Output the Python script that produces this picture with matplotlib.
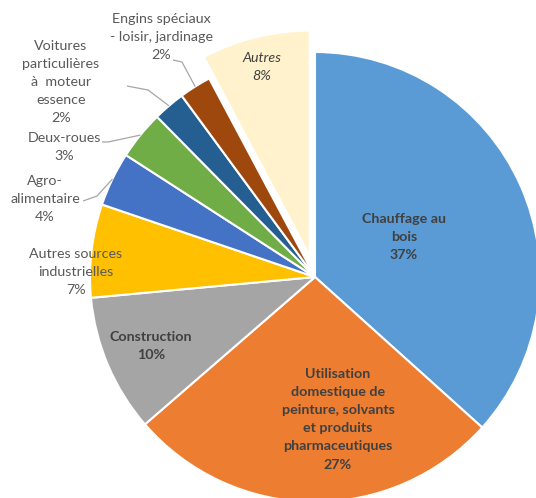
import numpy as np
import matplotlib
matplotlib.use("Agg")
import matplotlib.pyplot as plt

categories = ["Chauffage au\nbois", "Utilisation\ndomestique de\npeinture, solvants\net produits\npharmaceutiques",
              "Construction", "Autres sources\nindustrielles", "Agro-\nalimentaire", "Deux-roues",
              "Voitures\nparticulières\nà  moteur\nessence", "Engins spéciaux\n- loisir, jardinage", "Autres"]
shares = [36.7, 27.0, 9.9, 6.7, 3.9, 3.5, 2.3, 2.3, 7.8]
pct_labels = ["37%", "27%", "10%", "7%", "4%", "3%", "2%", "2%", "8%"]
colors = ["#5B9BD5", "#ED7D31", "#A5A5A5", "#FFC000", "#4472C4", "#70AD47", "#255E91", "#9E480E", "#FFF2CC"]

W, H = 536, 498
fig = plt.figure(figsize=(W / 100, H / 100), dpi=100)
ax = fig.add_axes([0, 0, 1, 1])

cx, cy, R = 315, H - 277, 225
explode = [0, 0, 0, 0, 0, 0, 0, 0, 22]
wedges, _ = ax.pie(shares, colors=colors, startangle=90, counterclock=False, radius=R,
                   center=(cx, cy), explode=explode,
                   wedgeprops=dict(edgecolor="white", linewidth=1.5))
ax.set_xlim(0, W)
ax.set_ylim(0, H)
ax.set_aspect("equal")
ax.axis("off")

FONT = "Lato"
FS = 10.3
LS = 1.62
dark = "#404040"
grey = "#595959"

def Y(y):
    return H - y

# inside labels
ax.text(404, Y(237), categories[0] + "\n" + pct_labels[0], ha="center", va="center",
        fontsize=FS, fontweight="bold", color=dark, family=FONT, linespacing=LS)
ax.text(338, Y(419), categories[1] + "\n" + pct_labels[1], ha="center", va="center",
        fontsize=FS, fontweight="bold", color=dark, family=FONT, linespacing=LS)
ax.text(151, Y(346), categories[2] + "\n" + pct_labels[2], ha="center", va="center",
        fontsize=FS, fontweight="bold", color=dark, family=FONT, linespacing=LS)
ax.text(262, Y(67), categories[8] + "\n" + pct_labels[8], ha="center", va="center",
        fontsize=FS, style="italic", color=dark, family=FONT, linespacing=LS)

# outside labels
ax.text(76, Y(272), categories[3] + "\n" + pct_labels[3], ha="center", va="center",
        fontsize=FS, color=grey, family=FONT, linespacing=LS)
ax.text(45, Y(199), categories[4] + "\n" + pct_labels[4], ha="center", va="center",
        fontsize=FS, color=grey, family=FONT, linespacing=LS)
ax.text(64, Y(147), categories[5] + "\n" + pct_labels[5], ha="center", va="center",
        fontsize=FS, color=grey, family=FONT, linespacing=LS)
ax.text(61, Y(82), categories[6] + "\n" + pct_labels[6], ha="center", va="center",
        fontsize=FS, color=grey, family=FONT, linespacing=LS)
ax.text(161, Y(37), categories[7] + "\n" + pct_labels[7], ha="center", va="center",
        fontsize=FS, color=grey, family=FONT, linespacing=LS)

# leader lines: from label to wedge edge (mid-angle point on arc)
def arc_point(i):
    w = wedges[i]
    th = np.deg2rad((w.theta1 + w.theta2) / 2)
    return w.center[0] + R * np.cos(th), w.center[1] + R * np.sin(th)

leaders = {4: [(83, 201), (97, 196)], 5: [(102, 142), (108, 142)],
           6: [(127, 86), (148, 90)], 7: [(173, 60), (182, 62)]}
for i, pts in leaders.items():
    ex, ey = arc_point(i)
    xs = [p[0] for p in pts] + [ex]
    ys = [Y(p[1]) for p in pts] + [ey]
    ax.plot(xs, ys, color="#A6A6A6", lw=0.9, solid_capstyle="butt")

fig.savefig("out.png", dpi=100, facecolor="white")
